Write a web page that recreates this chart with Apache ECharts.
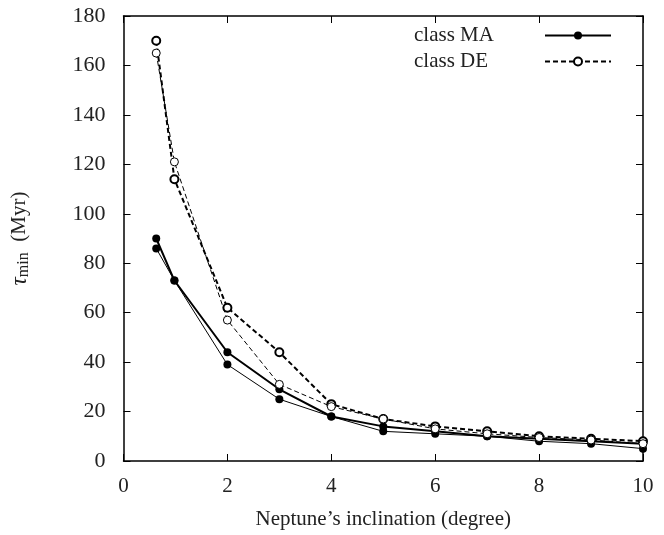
<!DOCTYPE html>
<html>
<head>
<meta charset="utf-8">
<script src="https://cdn.jsdelivr.net/npm/echarts@6/dist/echarts.min.js"></script>
<style>
  html, body { margin: 0; padding: 0; background: #fff; }
  #main { width: 664px; height: 535px; }
</style>
</head>
<body>
<div id="main"></div>
<script>
// inclination of Neptune (degree)
const incl = [0.63, 0.98, 2, 3, 4, 5, 6, 7, 8, 9, 10]

// tau_min (Myr)
const maThick = [90, 73, 44, 29, 18, 14, 12, 10, 9, 8, 7]
const maThin = [86, 73, 39, 25, 18, 12, 11, 10, 8, 7, 5]
const deThick = [170, 114, 62, 44, 23, 17, 14, 12, 10, 9, 8]
const deThin = [165, 121, 57, 31, 22, 17, 13, 11, 9.5, 8.5, 7]

const font = 'Liberation Serif'
const fs = 21

const pairs = ys => incl.map((x, i) => [x, ys[i]])

const chartDom = document.getElementById('main')
const myChart = echarts.init(chartDom)

const tickStyle = { show: true, inside: true, length: 7, lineStyle: { color: '#000', width: 1 } }
const lineStyle = { show: true, onZero: false, lineStyle: { color: '#000', width: 1.5 } }

const option = {
    animation: false,
    backgroundColor: '#fff',
    grid: { left: 121, right: 21, top: 16, bottom: 72 },
    legend: {
        data: ['class MA', 'class DE'],
        orient: 'vertical',
        right: 47,
        top: 20,
        align: 'right',
        itemWidth: 66,
        itemHeight: 10,
        itemGap: 5,
        formatter: name => `{a|${name}}`,
        textStyle: {
            fontFamily: font, fontSize: fs, color: '#222',
            rich: { a: { fontFamily: font, fontSize: fs, color: '#222', width: 96, align: 'left', padding: [0, 30, 0, 0] } }
        }
    },
    xAxis: [
        {
            type: 'value', min: 0, max: 10, interval: 2,
            name: 'Neptune\u2019s inclination (degree)',
            nameLocation: 'middle', nameGap: 48,
            nameTextStyle: { fontFamily: font, fontSize: fs, color: '#222' },
            axisLine: lineStyle,
            axisTick: tickStyle,
            axisLabel: { fontFamily: font, fontSize: fs, color: '#222', margin: 15 },
            splitLine: { show: false }
        },
        {
            type: 'value', min: 0, max: 10, interval: 2, position: 'top',
            axisLine: lineStyle,
            axisTick: tickStyle,
            axisLabel: { show: false },
            splitLine: { show: false }
        }
    ],
    yAxis: [
        {
            type: 'value', min: 0, max: 180, interval: 20,
            name: '{t|\u03c4}{s|min}  (Myr)',
            nameLocation: 'middle', nameGap: 92, nameRotate: 90,
            nameTextStyle: {
                fontFamily: font, fontSize: fs, color: '#222',
                rich: {
                    t: { fontFamily: font, fontSize: 23, fontStyle: 'italic', color: '#222' },
                    s: { fontFamily: font, fontSize: 16, color: '#222', verticalAlign: 'bottom', padding: [8, 0, 0, 0] }
                }
            },
            axisLine: lineStyle,
            axisTick: tickStyle,
            axisLabel: { fontFamily: font, fontSize: 22, color: '#222', margin: 18 },
            splitLine: { show: false }
        },
        {
            type: 'value', min: 0, max: 180, interval: 20, position: 'right',
            axisLine: lineStyle,
            axisTick: tickStyle,
            axisLabel: { show: false },
            splitLine: { show: false }
        }
    ],
    series: [
        {
            name: 'class MA', type: 'line', data: pairs(maThick),
            symbol: 'circle', symbolSize: 8,
            lineStyle: { color: '#000', width: 2 },
            itemStyle: { color: '#000' },
            z: 4
        },
        {
            name: 'MA thin', type: 'line', data: pairs(maThin),
            symbol: 'circle', symbolSize: 8,
            lineStyle: { color: '#000', width: 1 },
            itemStyle: { color: '#000' },
            z: 3
        },
        {
            name: 'class DE', type: 'line', data: pairs(deThick),
            symbol: 'circle', symbolSize: 8,
            lineStyle: { color: '#000', width: 2, type: [5, 3] },
            itemStyle: { color: '#fff', borderColor: '#000', borderWidth: 2 },
            z: 5
        },
        {
            name: 'DE thin', type: 'line', data: pairs(deThin),
            symbol: 'circle', symbolSize: 8,
            lineStyle: { color: '#000', width: 1, type: [5, 3] },
            itemStyle: { color: '#fff', borderColor: '#000', borderWidth: 1 },
            z: 5
        }
    ]
}

myChart.setOption(option)
</script>
</body>
</html>
